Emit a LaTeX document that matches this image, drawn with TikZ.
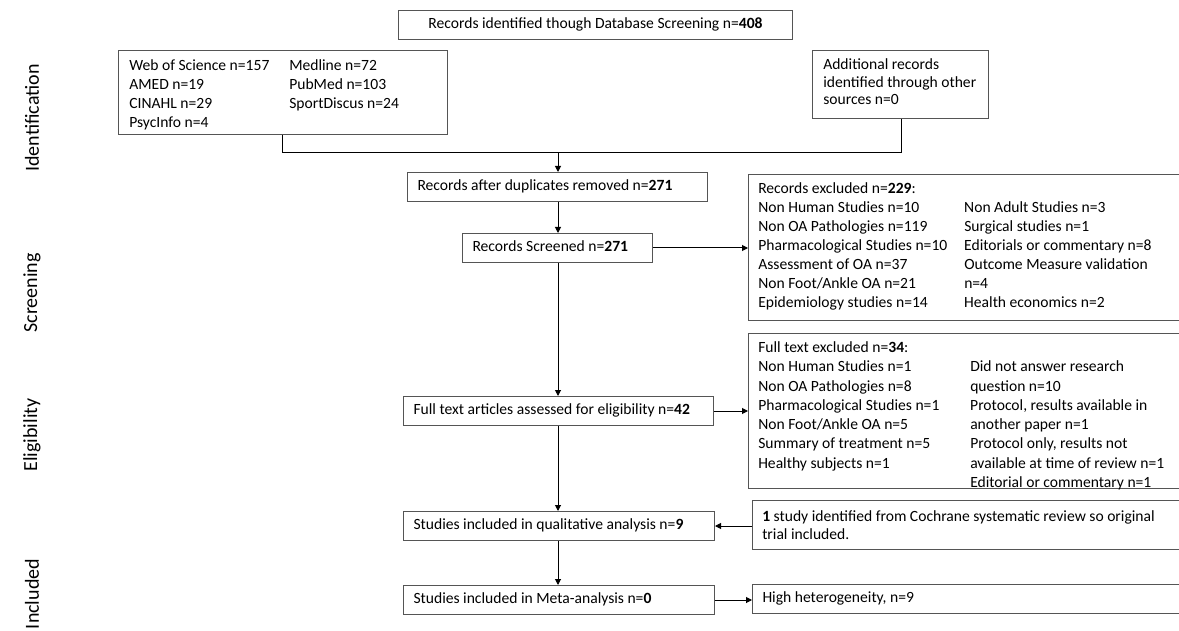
\documentclass[tikz,border=0pt]{standalone}
\usepackage{fontspec}
\setmainfont{Carlito}
\usetikzlibrary{arrows.meta}
\definecolor{boxcol}{HTML}{555555}
\tikzset{
  f/.style={font=\fontsize{11.7pt}{14.25pt}\selectfont},
  bx/.style={draw=boxcol, line width=0.75pt, anchor=north west, inner sep=0pt},
  sb/.style={bx, f, inner xsep=7.5pt, inner ysep=0pt, text height=8.3pt, text depth=3pt, minimum height=21.75pt},
  tx/.style={anchor=base west, inner sep=0pt},
  ln/.style={line width=0.75pt, black},
  ar/.style={ln, -{Triangle[length=4.5pt,width=4.5pt]}},
  side/.style={rotate=90, inner sep=0pt, font=\fontsize{15pt}{18pt}\selectfont}
}
\begin{document}
\begin{tikzpicture}[x=0.75pt,y=-0.75pt]
\useasboundingbox (0,0) rectangle (1179,631);
\clip (0,0) rectangle (1179,631);

% side labels
\node[side] (l1) at (32,118) {Identification};
\node[side] (l2) at (32,293) {Screening};
\node[side] (l3) at (32,435) {Eligibility};
\node[side] (l4) at (32,594) {Included};

% boxes
\node[sb] (top) at (398,10) {\makebox[280.5pt][c]{Records identified though Database Screening n=\textbf{408}}};
\node[bx, minimum width=246.75pt, minimum height=63pt] (db) at (118,50) {};
\node[tx, font=\fontsize{11.7pt}{14.25pt}\selectfont] (dbt) at (129,70.5) {\begin{tabular}[t]{@{}p{120pt}@{}l@{}}
Web of Science n=157 & Medline n=72\\
AMED n=19 & PubMed n=103\\
CINAHL n=29 & SportDiscus n=24\\
PsycInfo n=4 & \end{tabular}};
\node[bx, minimum width=132pt, minimum height=51pt] (add) at (812,50) {};
\node[tx, font=\fontsize{11.7pt}{13.3pt}\selectfont] (addt) at (823,69.5) {\begin{tabular}[t]{@{}l@{}}
Additional records\\
identified through other\\
sources n=0\end{tabular}};

\node[sb] (dup) at (407,172) {\makebox[210pt][l]{Records after duplicates removed n=\textbf{271}}};
\node[sb] (scr) at (462,233) {\makebox[127.5pt][l]{Records Screened n=\textbf{271}}};

\node[bx, minimum width=339pt, minimum height=109.5pt] (excl) at (748,174) {};
\node[tx, font=\fontsize{11.7pt}{14.25pt}\selectfont] (exclt) at (758,193.5) {\begin{tabular}[t]{@{}p{154.5pt}@{}l@{}}
Records excluded n=\textbf{229}: & \\
Non Human Studies n=10 & Non Adult Studies n=3\\
Non OA Pathologies n=119 & Surgical studies n=1\\
Pharmacological Studies n=10 & Editorials or commentary n=8\\
Assessment of OA n=37 & Outcome Measure validation\\
Non Foot/Ankle OA n=21 & n=4\\
Epidemiology studies n=14 & Health economics n=2\end{tabular}};

\node[sb] (full) at (403,396) {\makebox[217.5pt][l]{Full text articles assessed for eligibility n=\textbf{42}}};

\node[bx, minimum width=339pt, minimum height=116.25pt] (fexcl) at (748,333) {};
\node[tx, font=\fontsize{11.7pt}{14.46pt}\selectfont] (fexclt) at (758,352.5) {\begin{tabular}[t]{@{}p{159pt}@{}l@{}}
Full text excluded n=\textbf{34}: & \\
Non Human Studies n=1 & Did not answer research\\
Non OA Pathologies n=8 & question n=10\\
Pharmacological Studies n=1 & Protocol, results available in\\
Non Foot/Ankle OA n=5 & another paper n=1\\
Summary of treatment n=5 & Protocol only, results not\\
Healthy subjects n=1 & available at time of review n=1\\
 & Editorial or commentary n=1\end{tabular}};

\node[sb] (qual) at (403,511) {\makebox[218.25pt][l]{Studies included in qualitative analysis n=\textbf{9}}};
\node[bx, minimum width=336pt, minimum height=36.75pt] (coch) at (752,500) {};
\node[tx, font=\fontsize{11.7pt}{13.5pt}\selectfont] (cocht) at (762,521.5) {\begin{tabular}[t]{@{}l@{}}
\textbf{1} study identified from Cochrane systematic review so original\\
trial included.\end{tabular}};

\node[sb] (meta) at (403,585) {\makebox[218.25pt][l]{Studies included in Meta-analysis n=\textbf{0}}};
\node[sb] (high) at (752,584) {\makebox[321pt][l]{High heterogeneity, n=9}};

% connectors
\coordinate (jl) at (282,153);
\coordinate (jr) at (901,153);
\coordinate (jm) at (558,153);
\coordinate (mx) at (558,0);
\draw[ln] (db.south -| jl) -- (jl) -- (jr) -- (add.south -| jr);
\draw[ar] (jm) -- (dup.north -| jm);
\draw[ar] (dup.south -| mx) -- (scr.north -| mx);
\draw[ar] (scr.south -| mx) -- (full.north -| mx);
\draw[ar] (full.south -| mx) -- (qual.north -| mx);
\draw[ar] (qual.south -| mx) -- (meta.north -| mx);
\draw[ar] (scr.east) -- (scr.east -| excl.west);
\draw[ar] (full.east) -- (full.east -| fexcl.west);
\draw[ar] (coch.west |- qual.east) -- (qual.east);
\draw[ar] (meta.east) -- (meta.east -| high.west);
\end{tikzpicture}
\end{document}
